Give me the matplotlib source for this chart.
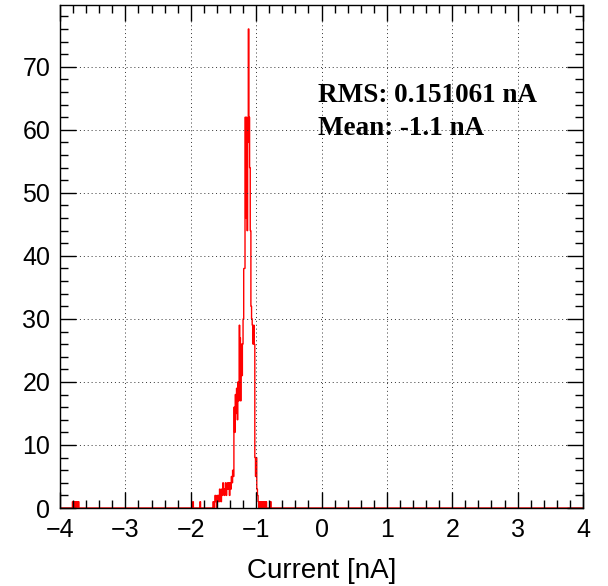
'Current histogram with RMS and mean'
import numpy as np
import matplotlib
matplotlib.use('Agg')
import matplotlib.pyplot as plt
from matplotlib.ticker import MultipleLocator

# binning of the histogram
bin_width = 0.01
hist_lo = -4.0
hist_hi = 4.0

# main peak: counts per bin, starting at left edge core_start
core_start = -1.66
core_counts = [1, 0, 1, 2, 1, 0, 2, 1, 2, 1,
               3, 2, 1, 3, 2, 4, 3, 2, 3, 4,
               2, 3, 4, 3, 4, 2, 4, 3, 5, 4,
               6, 5, 16, 12, 18, 15, 19, 14, 20, 17,
               29, 27, 17, 26, 21, 26, 30, 38, 38, 62,
               46, 62, 44, 58, 76, 62, 54, 44, 32, 30,
               29, 26, 29, 26, 8, 5, 8, 3, 2, 1]

# isolated single entries (left bin edges)
outlier_edges = [-3.81, -3.80, -3.78, -3.77, -3.75, -3.73, -3.72,
                 -1.97, -1.86,
                 -0.95, -0.94, -0.92, -0.90, -0.89, -0.87, -0.85, -0.79, -0.78]
outlier_counts = [1] * len(outlier_edges)

rms_text = 'RMS: 0.151061 nA'
mean_text = 'Mean: -1.1 nA'

# build histogram
edges = np.linspace(hist_lo, hist_hi, int(round((hist_hi - hist_lo) / bin_width)) + 1)
counts = np.zeros(len(edges) - 1)
i0 = int(round((core_start - hist_lo) / bin_width))
counts[i0:i0 + len(core_counts)] = core_counts
for e, c in zip(outlier_edges, outlier_counts):
	counts[int(round((e - hist_lo) / bin_width))] += c

plt.rcParams['font.family'] = ['Liberation Sans', 'DejaVu Sans']

fig = plt.figure(figsize=(6.08, 5.86), dpi=100)
ax = fig.add_axes([60 / 608, 78 / 586, 523 / 608, 503 / 586])

ax.stairs(counts, edges, color='red', linewidth=1.0)

ax.set_xlim(hist_lo, hist_hi)
ax.set_ylim(0, max(core_counts) * 1.05)

# ROOT-like ticks on all sides
ax.xaxis.set_major_locator(MultipleLocator(1))
ax.xaxis.set_minor_locator(MultipleLocator(0.2))
ax.yaxis.set_major_locator(MultipleLocator(10))
ax.yaxis.set_minor_locator(MultipleLocator(2))
ax.tick_params(which='both', direction='in', top=True, right=True, width=1.0, colors='black')
ax.tick_params(which='major', length=11.5)
ax.tick_params(which='minor', length=5.5)
ax.tick_params(axis='x', which='major', labelsize=18, pad=7)
ax.tick_params(axis='y', which='major', labelsize=18, pad=7)
for s in ax.spines.values():
	s.set_linewidth(1.0)

ax.grid(True, which='major', linestyle=(0, (1, 3)), color='#333333', linewidth=0.7)

ax.set_xlabel('Current [nA]', fontsize=20, labelpad=12)

ax.text(0.493, 0.821, rms_text, transform=ax.transAxes, fontsize=19.5,
	fontweight='bold', family=['Liberation Serif', 'DejaVu Serif'], va='center')
ax.text(0.493, 0.755, mean_text, transform=ax.transAxes, fontsize=19.5,
	fontweight='bold', family=['Liberation Serif', 'DejaVu Serif'], va='center')

fig.savefig('out.png', dpi=100)
